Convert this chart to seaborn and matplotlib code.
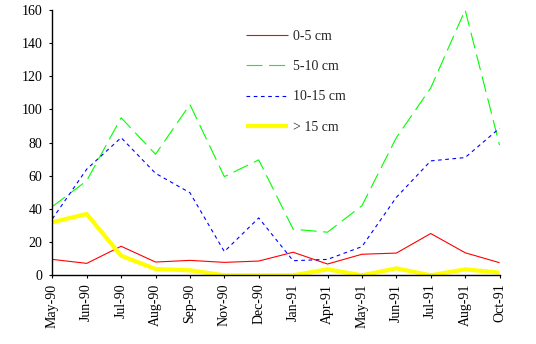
import matplotlib
matplotlib.use("Agg")
import matplotlib.pyplot as plt
import seaborn as sns
import pandas as pd

months = ["May-90", "Jun-90", "Jul-90", "Aug-90", "Sep-90", "Nov-90", "Dec-90",
          "Jan-91", "Apr-91", "May-91", "Jun-91", "Jul-91", "Aug-91", "Oct-91"]

depth_0_5 = [9.6, 7.2, 17.5, 8.0, 9.0, 7.8, 8.6, 13.9, 6.8, 12.7, 13.4, 25.2, 13.6, 7.6]
depth_5_10 = [41.4, 57, 95, 73, 103, 59.5, 69.6, 27.8, 26, 42, 83, 113, 160, 78.5]
depth_10_15 = [34, 64, 83, 61.5, 49.8, 14.3, 34.6, 8.8, 9.6, 17.3, 47, 69, 71, 88.7]
depth_gt_15 = [32, 37, 11.8, 3.8, 3.0, 0, 0, 0, 3.6, 0, 4.2, 0, 3.6, 1.6]

series_labels = ["0-5 cm", "5-10 cm", "10-15 cm", "> 15 cm"]
series_values = [depth_0_5, depth_5_10, depth_10_15, depth_gt_15]

sns.set_style("ticks")
plt.rcParams["font.family"] = ["Liberation Serif", "DejaVu Serif"]

styles = {
    "0-5 cm": dict(color="#FF0000", lw=0.8, dashes=None),
    "5-10 cm": dict(color="#00FF00", lw=0.8, dashes=(14.4, 5.9)),
    "10-15 cm": dict(color="#0000FF", lw=0.8, dashes=(3.3, 3.2)),
    "> 15 cm": dict(color="#FFFF00", lw=3.0, dashes=None),
}

fig = plt.figure(figsize=(5.36, 3.44), dpi=100)
ax = fig.add_axes([0.0976, 0.1997, 0.932 - 0.0976, 0.971 - 0.1997])

x = list(range(len(months)))
for label, values in zip(series_labels, series_values):
    st = styles[label]
    df = pd.DataFrame({"x": x, "y": values})
    sns.lineplot(data=df, x="x", y="y", ax=ax, color=st["color"],
                 linewidth=st["lw"], label=label, solid_capstyle="butt")
    line = ax.lines[-1]
    if st["dashes"] is not None:
        line.set_dashes(st["dashes"])

ax.set_xlim(0, len(months) - 1)
ax.set_ylim(0, 160)
ax.set_yticks(range(0, 161, 20))
ax.set_xticks(x)
ax.set_xticklabels(months, rotation=90, fontsize=10)
ax.tick_params(axis="y", labelsize=10, length=2.5, width=0.8, pad=4.5, colors="black")
ax.tick_params(axis="x", length=2.5, width=0.8, pad=3.5, colors="black")
ax.set_xlabel("")
ax.set_ylabel("")
for side in ["top", "right"]:
    ax.spines[side].set_visible(False)
for side in ["left", "bottom"]:
    ax.spines[side].set_color("black")
    ax.spines[side].set_linewidth(1.0)

handles, labels = ax.get_legend_handles_labels()
for h, lab in zip(handles, labels):
    st = styles[lab]
    if st["dashes"] is not None:
        h.set_dashes(st["dashes"])
leg = ax.legend(handles, labels, frameon=False, loc="upper left",
                bbox_to_anchor=(246 / 536, 1 - 30 / 344), bbox_transform=fig.transFigure,
                fontsize=10, handlelength=3.0, handletextpad=0.4, labelspacing=1.24,
                borderpad=0, borderaxespad=0)

fig.savefig("out.png", dpi=100, facecolor="white")
